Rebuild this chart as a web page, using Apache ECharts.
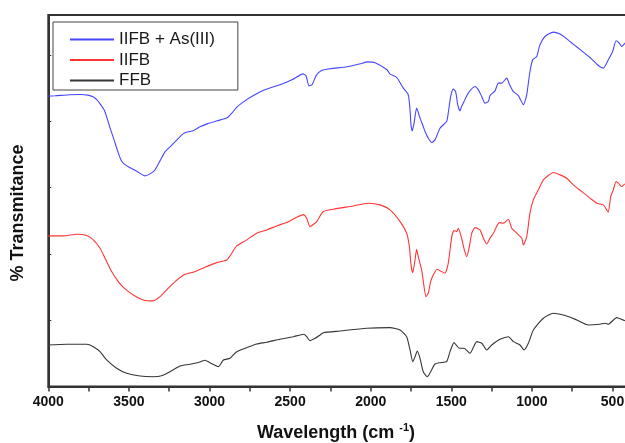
<!DOCTYPE html>
<html>
<head>
<meta charset="utf-8">
<script src="https://cdn.jsdelivr.net/npm/echarts@6/dist/echarts.min.js"></script>
<style>
  html, body { margin: 0; padding: 0; background: #fff; }
  #chart { width: 625px; height: 443px; }
</style>
</head>
<body>
<div id="chart"></div>
<script>
// FTIR spectra: [wavenumber (cm-1), transmittance (offset, arbitrary units)]
const seriesNames = ['IIFB + As(III)', 'IIFB', 'FFB'];
const seriesColors = ['#4646ff', '#ff3535', '#363636'];

const iifbAsSpectrum = [
  [4000,43.77],[3958,43.82],[3865,43.97],[3803,44.01],[3754,43.92],[3723,43.67],[3698,43.21],
  [3679,42.61],[3654,41.70],[3636,40.50],[3617,38.99],[3592,37.18],[3568,35.37],[3549,34.16],
  [3530,33.56],[3493,32.96],[3444,32.35],[3400,31.75],[3369,32.05],[3338,32.66],[3307,34.01],
  [3276,35.37],[3245,36.12],[3202,37.18],[3164,38.08],[3133,38.39],[3102,38.54],[3059,39.14],
  [3015,39.59],[2953,40.05],[2891,40.50],[2860,41.25],[2829,42.16],[2780,43.06],[2730,43.82],
  [2656,44.72],[2563,45.48],[2488,46.23],[2420,47.13],[2401,46.83],[2383,45.32],[2364,45.48],
  [2339,46.83],[2308,47.59],[2252,47.89],[2147,48.19],[2066,48.64],[2017,48.94],[1973,48.79],
  [1899,47.74],[1880,47.09],[1839,46.58],[1798,44.98],[1767,43.97],[1756,41.70],[1750,39.44],
  [1742,38.54],[1731,39.70],[1715,41.96],[1694,40.45],[1674,39.19],[1663,38.43],[1643,37.44],
  [1622,36.77],[1601,37.18],[1570,38.94],[1529,39.94],[1519,41.21],[1504,43.71],[1488,44.83],
  [1473,44.46],[1460,42.46],[1446,41.55],[1436,42.20],[1421,42.96],[1395,44.22],[1353,45.22],
  [1332,44.72],[1311,43.71],[1291,42.71],[1270,42.96],[1260,43.86],[1229,44.57],[1208,45.73],
  [1187,45.73],[1156,46.49],[1140,45.58],[1115,44.46],[1084,43.86],[1070,43.21],[1053,42.46],
  [1037,43.47],[1029,44.46],[1012,47.48],[995,49.25],[970,49.74],[950,51.51],[919,52.76],
  [867,53.42],[826,53.12],[784,52.41],[743,51.61],[691,50.60],[640,49.59],[588,48.39],
  [557,47.99],[526,49.25],[499,50.50],[478,52.11],[458,51.76],[443,51.25],[422,51.76],[400,52.00]
];

const iifbSpectrum = [
  [4000,22.70],[3907,22.70],[3824,22.96],[3762,22.75],[3721,22.10],[3679,20.84],[3648,19.34],
  [3607,17.32],[3566,15.81],[3524,14.71],[3473,13.80],[3411,13.05],[3349,12.90],[3307,13.54],
  [3266,14.56],[3214,15.81],[3152,16.92],[3100,17.22],[3028,17.98],[2955,18.67],[2893,19.08],
  [2862,20.09],[2831,21.19],[2769,22.10],[2707,23.11],[2645,23.60],[2583,24.21],[2521,24.71],
  [2459,25.52],[2418,25.91],[2397,25.37],[2377,24.10],[2345,24.62],[2335,24.86],[2294,26.37],
  [2232,26.73],[2108,27.22],[2015,27.63],[1942,27.38],[1880,26.62],[1818,24.86],[1777,23.11],
  [1760,21.09],[1750,18.33],[1739,17.16],[1725,19.08],[1715,20.69],[1705,19.58],[1684,17.57],
  [1669,15.05],[1657,13.54],[1643,14.06],[1628,15.81],[1612,16.82],[1587,17.68],[1560,17.32],
  [1539,17.07],[1519,18.58],[1497,22.59],[1483,23.50],[1466,23.35],[1457,23.86],[1436,22.35],
  [1419,20.59],[1404,19.58],[1388,21.09],[1373,23.11],[1353,23.95],[1322,23.60],[1301,22.35],
  [1280,21.49],[1260,22.35],[1239,23.11],[1202,24.71],[1177,24.62],[1146,25.22],[1125,23.86],
  [1094,23.11],[1063,22.35],[1053,21.34],[1032,22.59],[1012,26.12],[991,28.13],[960,29.64],
  [929,31.15],[919,31.40],[867,32.25],[826,31.90],[784,31.40],[743,30.39],[691,29.38],
  [640,28.39],[598,27.63],[557,27.38],[536,26.62],[526,26.27],[511,28.63],[495,29.64],
  [478,30.89],[464,30.65],[443,30.14],[422,30.54],[400,30.60]
];

const ffbSpectrum = [
  [4000,6.26],[3886,6.36],[3762,6.36],[3721,6.00],[3679,5.25],[3638,4.00],[3576,2.75],
  [3514,1.99],[3431,1.58],[3349,1.48],[3297,1.63],[3245,2.23],[3183,3.09],[3121,3.35],
  [3059,3.70],[3028,3.95],[2997,3.59],[2945,2.99],[2914,4.00],[2873,4.25],[2831,5.25],
  [2769,5.85],[2707,6.41],[2645,6.67],[2563,7.12],[2480,7.51],[2414,7.87],[2397,7.51],
  [2377,6.91],[2345,7.27],[2314,7.77],[2294,8.11],[2190,8.37],[2025,8.78],[1880,8.87],
  [1818,8.52],[1777,7.51],[1756,5.51],[1739,3.74],[1725,4.49],[1711,5.35],[1694,4.25],
  [1674,2.23],[1649,1.48],[1628,2.23],[1601,3.39],[1570,3.59],[1529,3.74],[1508,5.25],
  [1483,6.61],[1450,5.76],[1421,5.76],[1384,5.01],[1342,6.76],[1311,6.52],[1280,5.51],
  [1249,6.26],[1198,7.12],[1146,7.51],[1115,6.76],[1074,6.26],[1049,5.51],[1022,6.52],
  [991,8.52],[929,10.29],[867,11.04],[784,10.63],[722,10.03],[650,9.28],[578,9.38],
  [547,9.53],[526,9.38],[474,10.38],[422,9.92],[400,9.95]
];

const spectra = [iifbAsSpectrum, iifbSpectrum, ffbSpectrum];

// axis settings
const xMin = 250, xMax = 4000, xTickStep = 250, xLabelStep = 500;
const yMin = 0, yMax = 56, yTickStep = 10;

const FONT = '"Liberation Sans", Arial, Helvetica, sans-serif';
const AXIS_COLOR = '#333';

const chart = echarts.init(document.getElementById('chart'), null, { renderer: 'canvas' });

chart.setOption({
  backgroundColor: '#fff',
  animation: false,
  grid: {
    left: 48.3, right: -27.8, top: 15, bottom: 56.5,
    show: true, borderColor: AXIS_COLOR, borderWidth: 2,
    containLabel: false, outerBoundsMode: 'none'
  },
  legend: {
    orient: 'vertical',
    left: 53, top: 22,
    data: seriesNames,
    backgroundColor: '#fff',
    borderColor: '#444', borderWidth: 1,
    padding: [9, 23, 1, 16],
    itemWidth: 44, itemHeight: 14, itemGap: 3.5,
    itemStyle: { opacity: 0 },
    textStyle: { fontFamily: FONT, fontSize: 17, color: '#1a1a1a' }
  },
  xAxis: {
    type: 'value', inverse: true,
    min: xMin, max: xMax, interval: xTickStep,
    axisLine: { show: true, lineStyle: { color: AXIS_COLOR, width: 2 } },
    axisTick: { show: true, inside: false, length: 5, lineStyle: { color: AXIS_COLOR, width: 1.5 } },
    axisLabel: {
      formatter: v => (v % xLabelStep === 0 ? String(v) : ''),
      fontFamily: FONT, fontSize: 14, fontWeight: 'bold', color: '#111', margin: 9
    },
    splitLine: { show: false }
  },
  yAxis: {
    type: 'value', min: yMin, max: yMax, interval: yTickStep,
    axisLine: { show: true, lineStyle: { color: AXIS_COLOR, width: 2 } },
    axisTick: { show: true, inside: true, length: 3, lineStyle: { color: AXIS_COLOR, width: 1 } },
    axisLabel: { show: false },
    splitLine: { show: false }
  },
  series: spectra.map((data, i) => ({
    name: seriesNames[i],
    type: 'line',
    data: data,
    symbol: 'none',
    smooth: 0.2,
    color: seriesColors[i],
    lineStyle: { color: seriesColors[i], width: 1.1 }
  })),
  graphic: [
    {
      type: 'text', x: 336, y: 433,
      style: {
        text: '{b|Wavelength (cm }{s|-1}{b|)}',
        align: 'center', verticalAlign: 'middle', fill: '#111',
        rich: {
          b: { fontFamily: FONT, fontSize: 18, fontWeight: 'bold', fill: '#111', lineHeight: 22 },
          s: { fontFamily: FONT, fontSize: 11, fontWeight: 'bold', fill: '#111', lineHeight: 11, verticalAlign: 'top' }
        }
      }
    },
    {
      type: 'text', x: 18, y: 213, rotation: Math.PI / 2,
      style: {
        text: '% Transmitance',
        fontFamily: FONT, fontSize: 18, fontWeight: 'bold', fill: '#111',
        align: 'center', verticalAlign: 'middle'
      }
    }
  ]
});
</script>
</body>
</html>
